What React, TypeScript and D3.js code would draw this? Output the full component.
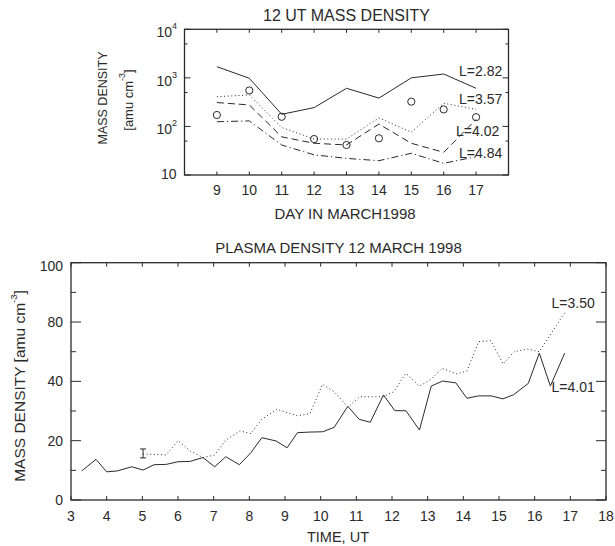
import React from 'react';
import * as d3 from 'd3';

// ---- Upper panel: 12 UT mass density vs day (log scale) ----
const days = [9, 10, 11, 12, 13, 14, 15, 16, 17];
const rhoL282 = [1700, 980, 178, 244, 610, 383, 1000, 1200, 610];
const rhoL357 = [410, 445, 95, 55, 55, 150, 76, 300, 225];
const rhoL402 = [310, 277, 61, 45, 41.5, 112, 45, 29.3, 140];
const rhoL484 = [125, 130, 41.5, 26, 22, 19.7, 28, 17.4, 23.8];
const rhoCircles = [172, 550, 158, 55, 41.5, 57, 324, 224, 155];
const upperLabels = ['L=2.82', 'L=3.57', 'L=4.02', 'L=4.84'];
const upperDecades = [10, 100, 1000, 10000];
const upperMinor = [50, 500, 5000];

// ---- Lower panel: plasma density on 12 March 1998 vs UT ----
const timeL350 = [5.02, 5.67, 6.0, 6.35, 6.7, 7.03, 7.34, 7.74, 8.04, 8.35, 8.77, 9.06, 9.35, 9.7, 10.05, 10.38, 10.77, 11.09, 11.42, 11.75, 12.05, 12.39, 12.77, 13.1, 13.4, 13.82, 14.1, 14.43, 14.77, 15.12, 15.42, 15.8, 16.13, 16.84];
const densL350 = [15.5, 15.2, 20.0, 16.5, 14.3, 15.2, 20.2, 23.3, 22.4, 27.2, 30.6, 29.4, 28.4, 29.1, 39.0, 36.5, 31.3, 34.8, 34.8, 34.8, 36.5, 42.7, 38.4, 40.7, 44.4, 42.5, 43.5, 53.4, 53.7, 45.8, 50.0, 50.9, 50.0, 63.1];
const timeL401 = [3.3, 3.7, 4.0, 4.3, 4.7, 5.02, 5.33, 5.67, 6.0, 6.33, 6.7, 7.03, 7.34, 7.72, 8.04, 8.35, 8.75, 9.06, 9.35, 9.7, 10.06, 10.38, 10.76, 11.08, 11.39, 11.76, 12.08, 12.39, 12.77, 13.1, 13.42, 13.79, 14.1, 14.43, 14.78, 15.11, 15.41, 15.82, 16.13, 16.44, 16.84];
const densL401 = [9.8, 13.7, 9.5, 9.8, 11.2, 10.1, 11.9, 12.0, 12.9, 13.0, 14.3, 11.2, 14.6, 11.9, 15.9, 21.0, 19.9, 17.6, 22.7, 22.9, 23.0, 24.5, 31.6, 27.2, 26.2, 35.4, 30.1, 30.1, 23.6, 38.4, 40.1, 39.5, 34.3, 35.1, 35.1, 34.1, 35.5, 39.3, 49.5, 38.4, 49.5];
const errorBar = { time: 5.02, low: 14.2, high: 17.2 };
const lowerLabels = ['L=3.50', 'L=4.01'];
const hourTicks = d3.range(3, 19);
const lowerYTicks = [0, 20, 40, 60, 80];
const lowerYTickLabels = ['0', '20', '40', '80', '100'];
const lowerYMinor = [10, 30, 50, 70];

const INK = '#2a2a2a';
const FONT = '"Liberation Sans", Arial, sans-serif';

export default function App() {
  // Upper panel geometry
  const U = { left: 184.5, right: 508.5, top: 29.3, bottom: 175 };
  const xDay = d3.scaleLinear().domain([8, 18]).range([U.left, U.right]);
  const yRho = d3.scaleLog().domain([10, 10000]).range([U.bottom, U.top]);

  // Lower panel geometry
  const B = { left: 71, right: 606, top: 262.7, bottom: 500 };
  const xUT = d3.scaleLinear().domain([3, 18]).range([B.left, B.right]);
  const yDen = d3.scaleLinear().domain([0, 80]).range([B.bottom, B.top]);

  const dayLine = (vals: number[]) =>
    d3.line<number>().x((_, i) => xDay(days[i])).y((v) => yRho(v))(vals) || '';
  const utLine = (ts: number[], vs: number[]) =>
    d3.line<number>().x((t) => xUT(t)).y((_, i) => yDen(vs[i]))(ts) || '';

  const upperSeries = [
    { vals: rhoL282, dash: undefined },
    { vals: rhoL357, dash: '1 2.6' },
    { vals: rhoL402, dash: '7 4' },
    { vals: rhoL484, dash: '7 3 1.2 3' },
  ];
  const upperLabelPos = [
    { x: 459, y: 71 },
    { x: 459, y: 98.5 },
    { x: 456, y: 130.5 },
    { x: 459, y: 152.5 },
  ];

  return (
    <svg
      width={615}
      height={546}
      style={{ position: 'absolute', left: 0, top: 0, background: '#fff' }}
      fontFamily={FONT}
    >
      <rect width={615} height={546} fill="#fff" />

      {/* ===== Upper panel ===== */}
      <text x={(U.left + U.right) / 2} y={21} textAnchor="middle" fontSize={16} fill={INK}>
        12 UT MASS DENSITY
      </text>
      <rect x={U.left} y={U.top} width={U.right - U.left} height={U.bottom - U.top} fill="none" stroke={INK} strokeWidth={1.3} />
      {days.map((d) => (
        <g key={'ud' + d}>
          <line x1={xDay(d)} x2={xDay(d)} y1={U.bottom} y2={U.bottom - 3.5} stroke={INK} />
          <line x1={xDay(d)} x2={xDay(d)} y1={U.top} y2={U.top + 3.5} stroke={INK} />
          <text x={xDay(d)} y={195} textAnchor="middle" fontSize={14} fill={INK}>{d}</text>
        </g>
      ))}
      {upperDecades.map((v) => (
        <g key={'uy' + v}>
          <line x1={U.left} x2={U.left + 6} y1={yRho(v)} y2={yRho(v)} stroke={INK} />
          <line x1={U.right} x2={U.right - 6} y1={yRho(v)} y2={yRho(v)} stroke={INK} />
        </g>
      ))}
      {upperMinor.map((v) => (
        <g key={'um' + v}>
          <line x1={U.left} x2={U.left + 3} y1={yRho(v)} y2={yRho(v)} stroke={INK} />
          <line x1={U.right} x2={U.right - 3} y1={yRho(v)} y2={yRho(v)} stroke={INK} />
        </g>
      ))}
      {upperDecades.map((v) => {
        const exp = Math.round(Math.log10(v));
        return exp === 1 ? (
          <text key={'ul' + v} x={176.5} y={yRho(v) + 4} textAnchor="end" fontSize={14} fill={INK}>10</text>
        ) : (
          <text key={'ul' + v} x={177} y={yRho(v) + 8} textAnchor="end" fontSize={14} fill={INK}>
            10<tspan fontSize={9} dy={-8}>{exp}</tspan>
          </text>
        );
      })}
      <text x={345} y={219} textAnchor="middle" fontSize={15} fill={INK}>DAY IN MARCH1998</text>
      <text transform="translate(103,98) rotate(-90)" textAnchor="middle" dominantBaseline="central" fontSize={12.5} fill={INK}>
        MASS DENSITY
      </text>
      <text transform="translate(128,100) rotate(-90)" textAnchor="middle" dominantBaseline="central" fontSize={13} fill={INK}>
        [amu  cm<tspan fontSize={9} dy={-6}>-3</tspan><tspan dy={6}>]</tspan>
      </text>

      {upperSeries.map((s, i) => (
        <path key={'us' + i} d={dayLine(s.vals)} fill="none" stroke={INK} strokeWidth={1} strokeDasharray={s.dash} />
      ))}
      {rhoCircles.map((v, i) => (
        <circle key={'uc' + i} cx={xDay(days[i])} cy={yRho(v)} r={3.6} fill="none" stroke={INK} strokeWidth={1} />
      ))}
      {upperLabels.map((t, i) => (
        <text key={'ulab' + i} x={upperLabelPos[i].x} y={upperLabelPos[i].y} dominantBaseline="central" fontSize={14} fill={INK}>
          {t}
        </text>
      ))}

      {/* ===== Lower panel ===== */}
      <text x={(B.left + B.right) / 2} y={253} textAnchor="middle" fontSize={15} fill={INK}>
        PLASMA DENSITY 12 MARCH 1998
      </text>
      <rect x={B.left} y={B.top} width={B.right - B.left} height={B.bottom - B.top} fill="none" stroke={INK} strokeWidth={1.3} />
      {hourTicks.map((h) => (
        <g key={'bx' + h}>
          <line x1={xUT(h)} x2={xUT(h)} y1={B.bottom} y2={B.bottom - 4} stroke={INK} />
          <line x1={xUT(h)} x2={xUT(h)} y1={B.top} y2={B.top + 4} stroke={INK} />
          <text x={xUT(h)} y={521} textAnchor="middle" fontSize={14} fill={INK}>{h}</text>
        </g>
      ))}
      {lowerYTicks.map((v, i) => (
        <g key={'by' + v}>
          <line x1={B.left} x2={B.left + 10} y1={yDen(v)} y2={yDen(v)} stroke={INK} />
          <line x1={B.right} x2={B.right - 10} y1={yDen(v)} y2={yDen(v)} stroke={INK} />
          <text x={63} y={yDen(v) + 5 + (i === lowerYTicks.length - 1 ? 3 : 0)} textAnchor="end" fontSize={14} fill={INK}>
            {lowerYTickLabels[i]}
          </text>
        </g>
      ))}
      {lowerYMinor.map((v) => (
        <g key={'bm' + v}>
          <line x1={B.left} x2={B.left + 5} y1={yDen(v)} y2={yDen(v)} stroke={INK} />
          <line x1={B.right} x2={B.right - 5} y1={yDen(v)} y2={yDen(v)} stroke={INK} />
        </g>
      ))}
      <text x={338} y={542} textAnchor="middle" fontSize={14.5} fill={INK}>TIME, UT</text>
      <text transform="translate(19,386) rotate(-90)" textAnchor="middle" dominantBaseline="central" fontSize={15.5} fill={INK}>
        MASS DENSITY  [amu  cm<tspan fontSize={9.5} dy={-6}>-3</tspan><tspan dy={6}>]</tspan>
      </text>

      <path d={utLine(timeL350, densL350)} fill="none" stroke={INK} strokeWidth={1} strokeDasharray="1 2.6" />
      <path d={utLine(timeL401, densL401)} fill="none" stroke={INK} strokeWidth={1} />
      <g stroke={INK} strokeWidth={1}>
        <line x1={xUT(errorBar.time)} x2={xUT(errorBar.time)} y1={yDen(errorBar.low)} y2={yDen(errorBar.high)} />
        <line x1={xUT(errorBar.time) - 3} x2={xUT(errorBar.time) + 3} y1={yDen(errorBar.low)} y2={yDen(errorBar.low)} />
        <line x1={xUT(errorBar.time) - 3} x2={xUT(errorBar.time) + 3} y1={yDen(errorBar.high)} y2={yDen(errorBar.high)} />
      </g>
      <text x={551.5} y={302.5} dominantBaseline="central" fontSize={14} fill={INK}>{lowerLabels[0]}</text>
      <text x={551.5} y={386.5} dominantBaseline="central" fontSize={14} fill={INK}>{lowerLabels[1]}</text>
    </svg>
  );
}
